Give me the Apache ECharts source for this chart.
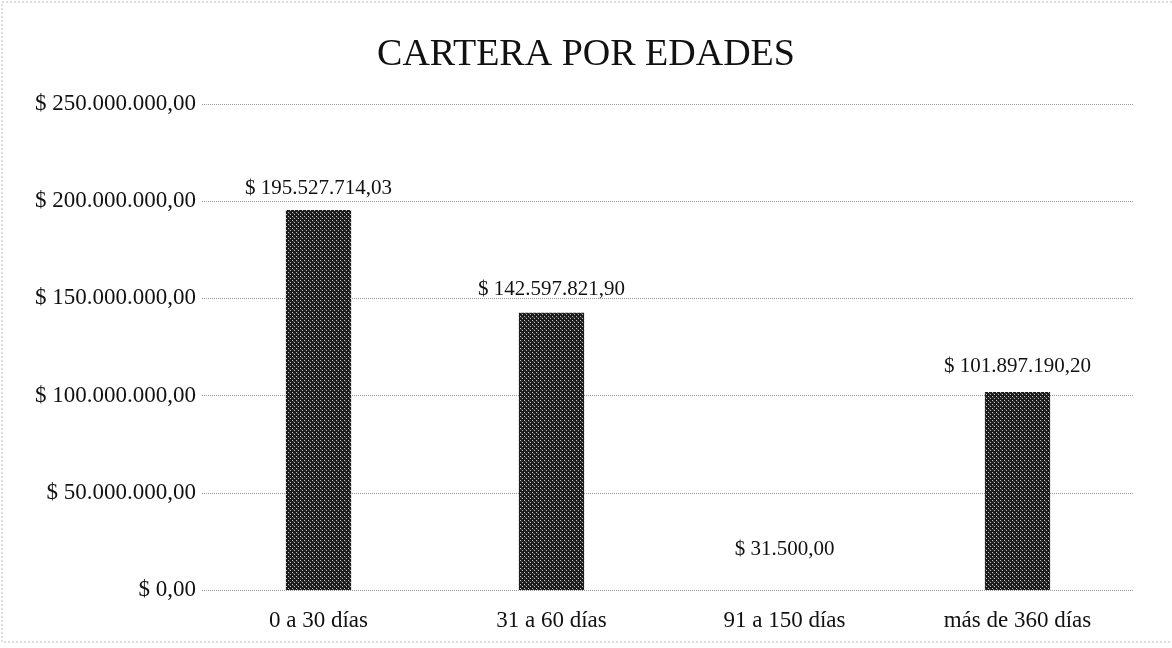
<!DOCTYPE html>
<html><head><meta charset="utf-8">
<script src="https://cdn.jsdelivr.net/npm/echarts@6/dist/echarts.min.js"></script>
<style>html,body{margin:0;padding:0;background:#fff}#c{width:1172px;height:648px}</style>
</head><body><div id="c"></div>
<script>
const title = 'CARTERA POR EDADES';
const categories = ['0 a 30 días', '31 a 60 días', '91 a 150 días', 'más de 360 días'];
const values = [195527714.03, 142597821.90, 31500.00, 101897190.20];

function fmt(v) {
  const parts = v.toFixed(2).split('.');
  const intPart = parts[0].replace(/\B(?=(\d{3})+(?!\d))/g, '.');
  return '$ ' + intPart + ',' + parts[1];
}

// crosshatch pattern
const tile = document.createElement('canvas');
tile.width = 4; tile.height = 4;
const tx = tile.getContext('2d');
tx.fillStyle = '#1c1c1c'; tx.fillRect(0, 0, 4, 4);
tx.fillStyle = 'rgba(255,255,255,0.75)';
tx.fillRect(0, 0, 1, 1);
tx.fillRect(2, 2, 1, 1);
tx.fillStyle = 'rgba(255,255,255,0.25)';
tx.fillRect(1, 1, 1, 1);

const font = '"Liberation Serif", "DejaVu Serif", serif';
const labelOffsets = [[0, -1], [0, -3], [0, -20], [0, -5]];
const chart = echarts.init(document.getElementById('c'), null, {renderer: 'canvas'});
chart.setOption({
  backgroundColor: '#fff',
  animation: false,
  title: {
    text: title, left: 'center', top: 31,
    textStyle: {fontFamily: font, fontSize: 38, fontWeight: 'normal', color: '#111'}
  },
  graphic: [{
    type: 'rect', shape: {x: 2, y: 2, width: 1190, height: 640},
    style: {fill: 'none', stroke: '#bbb', lineWidth: 1, lineDash: [2, 2]}, silent: true
  }],
  grid: {left: 202, right: 38, top: 104, bottom: 58},
  xAxis: {
    type: 'category', data: categories,
    axisLine: {show: false}, axisTick: {show: false},
    axisLabel: {fontFamily: font, fontSize: 23, color: '#111', margin: 19}
  },
  yAxis: {
    type: 'value', min: 0, max: 250000000, interval: 50000000,
    axisLine: {show: false}, axisTick: {show: false},
    axisLabel: {fontFamily: font, fontSize: 23, color: '#111', margin: 6, formatter: v => fmt(v)},
    splitLine: {lineStyle: {color: '#999', type: 'dotted', width: 1}}
  },
  series: [{
    type: 'bar', barWidth: '28%',
    data: values.map((v, i) => ({value: v, label: {offset: labelOffsets[i]}})),
    itemStyle: {color: {image: tile, repetition: 'repeat'}},
    label: {
      show: true, position: 'top', distance: 10,
      fontFamily: font, fontSize: 21, color: '#111',
      formatter: p => fmt(p.value)
    }
  }]
});
</script></body></html>
